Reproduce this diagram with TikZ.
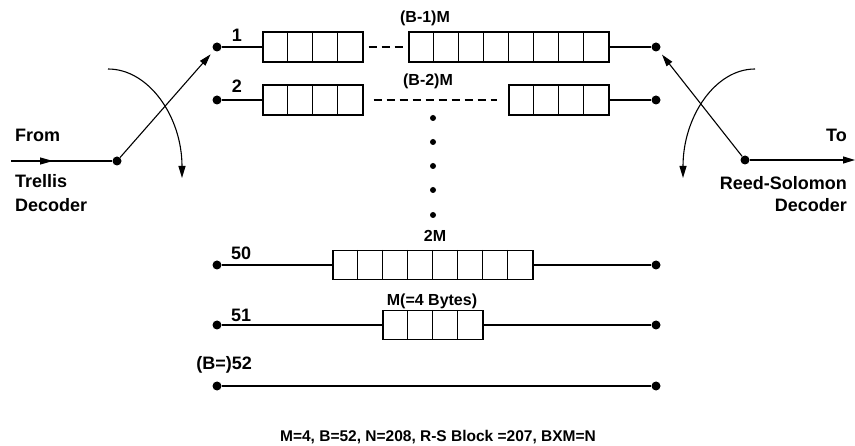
\documentclass[tikz,border=0pt]{standalone}
\usepackage{fontspec}
\setmainfont{Liberation Sans}
\usetikzlibrary{arrows.meta}
\tikzset{
  bigtxt/.style={font=\fontsize{18bp}{20bp}\selectfont\bfseries, inner sep=0pt},
  smalltxt/.style={font=\fontsize{16bp}{18bp}\selectfont\bfseries, inner sep=0pt},
  foot/.style={font=\fontsize{15.5bp}{17bp}\selectfont\bfseries, inner sep=0pt},
  port/.style={circle, fill=black, inner sep=0pt, minimum size=9bp},
  vdot/.style={circle, fill=black, inner sep=0pt, minimum size=6bp},
  buf/.style={draw, line width=1.4bp, rectangle, inner sep=0pt, minimum height=30bp},
  wire/.style={line width=2.4bp},
  gap/.style={line width=1.2bp, dash pattern=on 8bp off 5bp},
  thinarrow/.style={line width=1.1bp, -{Triangle[length=12bp,width=7bp]}},
}
\newcommand{\cells}[3]{% node, number of cells, cell width
  \foreach \k in {1,...,#2}{%
    \ifnum\k<#2
      \draw[line width=1.2bp] ([xshift=\k*#3 bp]#1.north west) -- ([xshift=\k*#3 bp]#1.south west);
    \fi}}
\begin{document}
\begin{tikzpicture}[x=1bp, y=-1bp]
\useasboundingbox (0,0) rectangle (855,446);

% ---- row 1 ----
\node[port] (l1) at (217,47) {};
\node[port] (r1) at (656,47) {};
\node[buf, minimum width=100bp] (a1) at (313,47) {};
\node[buf, minimum width=200bp] (b1) at (509,47) {};
\cells{a1}{4}{25}
\cells{b1}{8}{25}
\draw[wire] (l1) -- (a1.west);
\draw[gap] (a1.east) ++(5,0) coordinate (g1s) -- ([xshift=-4bp]b1.west);
\draw[wire] (b1.east) -- (r1);
\node[bigtxt, anchor=base] (n1) at (237,42) {1};
\node[smalltxt, anchor=base] (t1) at (425,23) {(B-1)M};

% ---- row 2 ----
\node[port] (l2) at (217,100) {};
\node[port] (r2) at (656,100) {};
\node[buf, minimum width=100bp] (a2) at (313,100) {};
\node[buf, minimum width=100bp] (b2) at (559,100) {};
\cells{a2}{4}{25}
\cells{b2}{4}{25}
\draw[wire] (l2) -- (a2.west);
\draw[gap] ([xshift=10bp]a2.east) -- ([xshift=-11bp]b2.west);
\draw[wire] (b2.east) -- (r2);
\node[bigtxt, anchor=base] (n2) at (237,93) {2};
\node[smalltxt, anchor=base] (t2) at (428,86) {(B-2)M};

% ---- vertical ellipsis ----
\foreach \yy [count=\i] in {118,142,166,190,215}
  \node[vdot] (d\i) at (433,\yy) {};

% ---- row 50 ----
\node[port] (l50) at (217,265) {};
\node[port] (r50) at (656,265) {};
\node[buf, minimum width=200bp, minimum height=29bp] (b50) at (433,265) {};
\cells{b50}{8}{25}
\draw[wire] (l50) -- (b50.west);
\draw[wire] (b50.east) -- (r50);
\node[bigtxt, anchor=base west] (n50) at (231,260) {50};
\node[smalltxt, anchor=base] (t50) at (435,242) {2M};

% ---- row 51 ----
\node[port] (l51) at (217,325) {};
\node[port] (r51) at (656,325) {};
\node[buf, minimum width=100bp, minimum height=29bp] (b51) at (433,325) {};
\cells{b51}{4}{25}
\draw[wire] (l51) -- (b51.west);
\draw[wire] (b51.east) -- (r51);
\node[bigtxt, anchor=base west] (n51) at (231,322) {51};
\node[smalltxt, anchor=base] (t51) at (432,306) {M(=4 Bytes)};

% ---- row 52 ----
\node[port] (l52) at (217,386) {};
\node[port] (r52) at (656,386) {};
\draw[wire] (l52) -- (r52);
\node[bigtxt, anchor=base east] (n52) at (252,370) {(B=)52};

% ---- input side ----
\coordinate (inS) at (11,161);
\node[port] (inD) at (117,161) {};
\draw[line width=1.1bp] (inS) -- (inD);
\draw[line width=1.1bp, -{Triangle[length=13bp,width=7bp]}] (inS) -- (53,161);
\draw[thinarrow, shorten >=5bp] (inD) -- (l1);
\coordinate (cl1) at (108,69);
\coordinate (cl2) at (182,178);
\draw[thinarrow] (cl1) .. controls (149,69) and (182,117) .. (cl2);
\node[bigtxt, anchor=base west] (from) at (15,142) {From};
\node[bigtxt, anchor=base west] (trel) at (15,188) {Trellis};
\node[bigtxt, anchor=base west] (dec1) at (15,212) {Decoder};

% ---- output side ----
\node[port] (outD) at (745,160) {};
\coordinate (outE) at (855,160);
\draw[thinarrow] (outD) -- (outE);
\draw[thinarrow, shorten >=5bp] (outD) -- (r1);
\coordinate (cr1) at (755,69);
\coordinate (cr2) at (683,178);
\draw[thinarrow] (cr1) .. controls (715,69) and (683,117) .. (cr2);
\node[bigtxt, anchor=base east] (to) at (847,142) {To};
\node[bigtxt, anchor=base east] (rs) at (847,190) {Reed-Solomon};
\node[bigtxt, anchor=base east] (dec2) at (847,212) {Decoder};

% ---- footnote ----
\node[foot, anchor=base] (note) at (438,441) {M=4, B=52, N=208, R-S Block =207, BXM=N};
\end{tikzpicture}
\end{document}
